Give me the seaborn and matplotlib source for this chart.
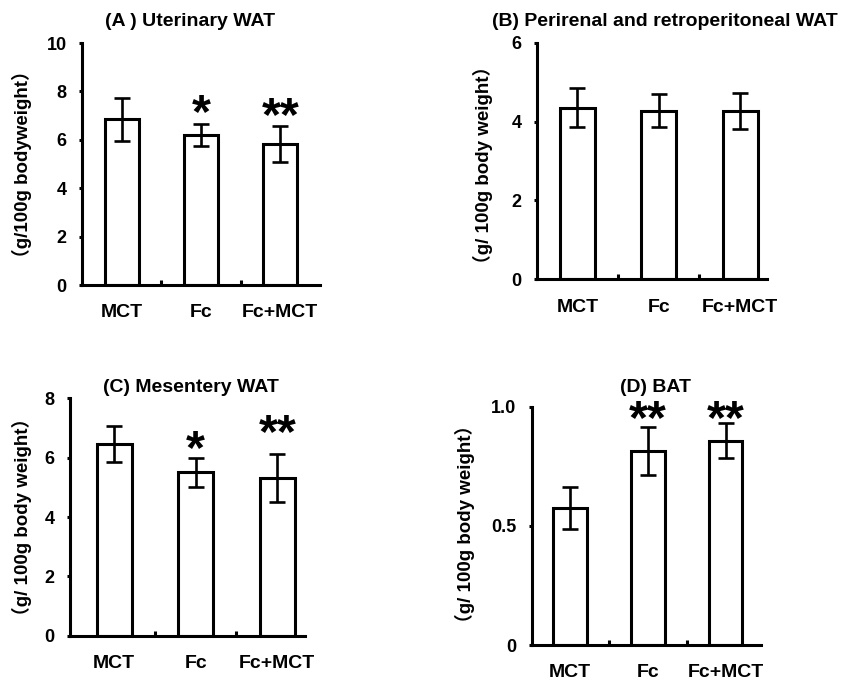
import matplotlib
matplotlib.use("Agg")
import matplotlib.pyplot as plt
import seaborn as sns
import pandas as pd

# ---------------- data ----------------
groups = ["MCT", "Fc", "Fc+MCT"]

uterinary_mean = [6.85, 6.20, 5.83]
uterinary_sem = [0.88, 0.44, 0.74]
uterinary_sig = ["", "*", "**"]

perirenal_mean = [4.35, 4.28, 4.27]
perirenal_sem = [0.50, 0.42, 0.46]
perirenal_sig = ["", "", ""]

mesentery_mean = [6.45, 5.50, 5.32]
mesentery_sem = [0.60, 0.48, 0.80]
mesentery_sig = ["", "*", "**"]

bat_mean = [0.575, 0.815, 0.858]
bat_sem = [0.090, 0.100, 0.075]
bat_sig = ["", "**", "**"]

titles = ["(A ) Uterinary WAT", "(B) Perirenal and retroperitoneal WAT",
          "(C) Mesentery WAT", "(D) BAT"]
ylabels = ["（g/100g bodyweight）", "（g/ 100g body weight）",
           "（g/ 100g body weight）", "（g/ 100g body weight）"]
yticks_list = [[0, 2, 4, 6, 8, 10], [0, 2, 4, 6], [0, 2, 4, 6, 8], [0, 0.5, 1.0]]
ytick_labels = [["0", "2", "4", "6", "8", "10"], ["0", "2", "4", "6"],
                ["0", "2", "4", "6", "8"], ["0", "0.5", "1.0"]]

# ---------------- style ----------------
sns.set_style("ticks")
plt.rcParams["font.family"] = ["Liberation Sans", "Noto Sans CJK JP", "DejaVu Sans"]
plt.rcParams["font.weight"] = "bold"
for key in ["text.color", "axes.labelcolor", "xtick.color", "ytick.color",
            "axes.edgecolor"]:
    plt.rcParams[key] = "black"

W, H = 844, 683
fig = plt.figure(figsize=(W / 100, H / 100), dpi=100)

# layout (pixel boxes: left, top, right, bottom)
boxes = [(82, 43, 320, 285), (536.7, 42.7, 767, 279.3),
         (70, 398.3, 305, 635.7), (531.7, 406.7, 760.7, 645)]
xlims = [(-0.5, 2.5), (-0.5, 2.33), (-0.54, 2.34), (-0.49, 2.45)]
label_x = [-0.21, -0.19, -0.162, -0.248]
label_y = [0.50, 0.483, 0.50, 0.508]
title_pos = [(190, 22), (665, 22), (191, 388), (656, 388)]
star_offsets = [[0, 24, 22], [0, 0, 0], [0, 22, 33], [0, 20, 16]]

means = [uterinary_mean, perirenal_mean, mesentery_mean, bat_mean]
sems = [uterinary_sem, perirenal_sem, mesentery_sem, bat_sem]
sigs = [uterinary_sig, perirenal_sig, mesentery_sig, bat_sig]

LW = 2.2
for i in range(4):
    l, t, r, b = boxes[i]
    ax = fig.add_axes([l / W, 1 - b / H, (r - l) / W, (b - t) / H])
    df = pd.DataFrame({"group": groups, "value": means[i]})
    sns.barplot(data=df, x="group", y="value", ax=ax, color="white",
                edgecolor="black", linewidth=LW, width=0.43, errorbar=None,
                saturation=1)
    ax.errorbar(x=list(range(len(groups))), y=means[i], yerr=sems[i], fmt="none",
                ecolor="black", elinewidth=1.9, capsize=5.5, capthick=1.9, zorder=5)
    ax.set_xlim(*xlims[i])
    ax.set_ylim(yticks_list[i][0], yticks_list[i][-1])
    ax.set_yticks(yticks_list[i])
    ax.set_yticklabels(ytick_labels[i], fontsize=13, fontweight="bold", color="black")
    ax.set_xticks(range(len(groups)))
    ax.set_xticklabels(groups, fontsize=14, fontweight="bold", color="black")
    ax.set_xticks([0.5, 1.5], minor=True)
    ax.tick_params(axis="x", which="major", length=0, pad=14)
    ax.tick_params(axis="x", which="minor", direction="in", length=3.5, width=LW,
                   color="black")
    ax.tick_params(axis="y", which="major", direction="out", length=2.5, width=LW,
                   pad=8.5, color="black")
    for s in ["top", "right"]:
        ax.spines[s].set_visible(False)
    for s in ["left", "bottom"]:
        ax.spines[s].set_linewidth(LW)
        ax.spines[s].set_color("black")
    ax.set_xlabel("")
    ax.set_ylabel(ylabels[i], fontsize=13.5, fontweight="bold", color="black")
    ax.yaxis.set_label_coords(label_x[i], label_y[i])
    ax.set_facecolor("white")
    for j, s in enumerate(sigs[i]):
        if s:
            ax.annotate(s, xy=(j, means[i][j] + sems[i][j]), xycoords="data",
                        xytext=(0, star_offsets[i][j] * 0.72 - 19), textcoords="offset points",
                        ha="center", va="baseline", fontsize=35, fontweight="bold",
                        color="black", annotation_clip=False)
    tx, ty = title_pos[i]
    fig.text(tx / W, 1 - ty / H, titles[i], ha="center", va="center",
             fontsize=14, fontweight="bold", color="black")

fig.savefig("out.png", dpi=100, facecolor="white")
